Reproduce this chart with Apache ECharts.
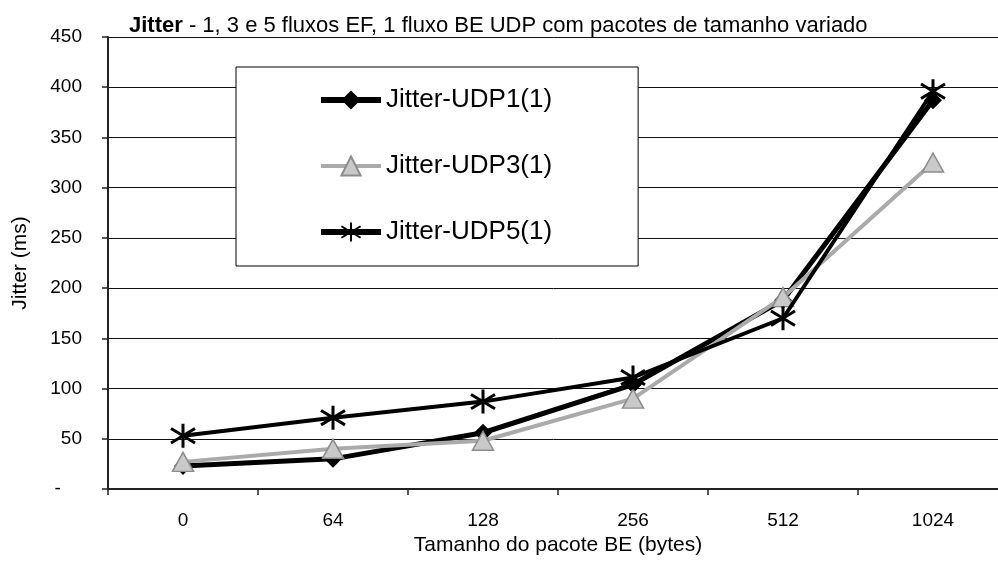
<!DOCTYPE html>
<html>
<head>
<meta charset="utf-8">
<script src="https://cdn.jsdelivr.net/npm/echarts@6/dist/echarts.min.js"></script>
<style>
html,body{margin:0;padding:0;background:#fff;}
#chart{width:998px;height:562px;}
</style>
</head>
<body>
<div id="chart"></div>
<script>
// ---- data ----
const categories = ['0', '64', '128', '256', '512', '1024'];
const jitterUDP1 = [23, 30, 56, 104, 188, 387];
const jitterUDP3 = [27, 40, 48, 90, 191, 325];
const jitterUDP5 = [53, 71, 87, 111, 170, 396];
const seriesNames = ['Jitter-UDP1(1)', 'Jitter-UDP3(1)', 'Jitter-UDP5(1)'];
const yTicks = [0, 50, 100, 150, 200, 250, 300, 350, 400, 450];
const zeroLabel = '-    ';
const titleBold = 'Jitter';
const titleRest = ' - 1, 3 e 5 fluxos EF, 1 fluxo BE UDP com pacotes de tamanho variado';
const xName = 'Tamanho do pacote BE (bytes)';
const yName = 'Jitter (ms)';

const FONT = '"Liberation Sans", Arial, Helvetica, sans-serif';
const asterisk = 'path://M10,0 L10,20 M1,4 L19,16 M1,16 L19,4';

const chart = echarts.init(document.getElementById('chart'), null, {renderer: 'canvas'});
chart.setOption({
  backgroundColor: '#fff',
  animation: false,
  textStyle: {fontFamily: FONT, color: '#000'},
  title: {
    text: '{b|' + titleBold + '}' + titleRest,
    left: 124,
    top: 10,
    textStyle: {
      fontFamily: FONT, fontSize: 22, fontWeight: 'normal', color: '#000',
      rich: {b: {fontFamily: FONT, fontSize: 22, fontWeight: 'bold', color: '#000'}}
    }
  },
  legend: {
    data: [
      {name: seriesNames[0], lineStyle: {width: 6}},
      {name: seriesNames[1], lineStyle: {width: 4}},
      {name: seriesNames[2], lineStyle: {width: 6}}
    ],
    orient: 'vertical',
    left: 236,
    top: 67,
    padding: [19, 86, 20, 82],
    itemGap: 38,
    itemWidth: 60,
    itemHeight: 24,
    backgroundColor: '#fff',
    borderColor: '#000',
    borderWidth: 1,
    textStyle: {fontFamily: FONT, fontSize: 26, color: '#000', lineHeight: 28},
    z: 10
  },
  grid: {left: 108, top: 37, width: 900, bottom: 73, containLabel: false, outerBoundsMode: 'none'},
  xAxis: {
    type: 'category',
    data: categories,
    boundaryGap: true,
    name: xName,
    nameLocation: 'middle',
    nameGap: 46,
    nameTextStyle: {fontFamily: FONT, fontSize: 21, color: '#000'},
    axisLine: {show: true, lineStyle: {color: '#222', width: 2}},
    axisTick: {show: true, length: 6, lineStyle: {color: '#222', width: 1.5}},
    axisLabel: {fontFamily: FONT, fontSize: 19, color: '#000', margin: 22},
    splitLine: {show: false}
  },
  yAxis: {
    type: 'value',
    min: 0,
    max: 450,
    interval: 50,
    name: yName,
    nameLocation: 'middle',
    nameGap: 77,
    nameTextStyle: {fontFamily: FONT, fontSize: 21, color: '#000'},
    axisLine: {show: true, lineStyle: {color: '#222', width: 2}},
    axisTick: {show: true, length: 6, lineStyle: {color: '#222', width: 1.5}},
    axisLabel: {
      fontFamily: FONT, fontSize: 19, color: '#000', margin: 26,
      formatter: function (v) { return v === yTicks[0] ? zeroLabel : String(v); }
    },
    splitLine: {show: true, lineStyle: {color: '#111', width: 1}}
  },
  series: [
    {
      name: seriesNames[0],
      type: 'line',
      data: jitterUDP1,
      symbol: 'diamond',
      symbolSize: 18,
      lineStyle: {color: '#000', width: 5},
      itemStyle: {color: '#000', borderColor: '#000', borderWidth: 0},
      z: 2
    },
    {
      name: seriesNames[1],
      type: 'line',
      data: jitterUDP3,
      symbol: 'triangle',
      symbolSize: [21, 19],
      lineStyle: {color: '#aaaaaa', width: 4},
      itemStyle: {color: '#c9c9c9', borderColor: '#8c8c8c', borderWidth: 1.5},
      z: 3
    },
    {
      name: seriesNames[2],
      type: 'line',
      data: jitterUDP5,
      symbol: asterisk,
      symbolSize: 24,
      lineStyle: {color: '#000', width: 4},
      itemStyle: {color: '#000', borderColor: '#000', borderWidth: 3},
      z: 4
    }
  ]
});
</script>
</body>
</html>
